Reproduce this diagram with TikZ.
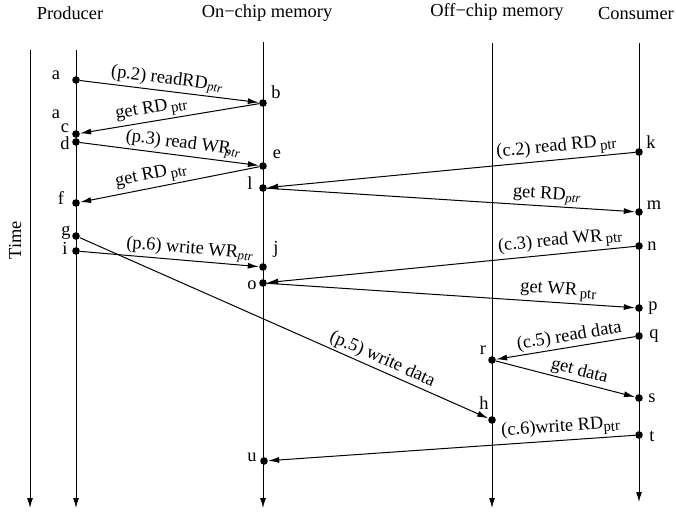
\documentclass[tikz,border=0pt]{standalone}
\usepackage{fontspec}
\setmainfont{Liberation Serif}
\usetikzlibrary{arrows.meta}
% pointer subscripts: italic subscript and small lowered upright form
\newcommand{\ptri}{\textsubscript{\itshape ptr}}
\newcommand{\ptru}{\raisebox{-0.35ex}{\fontsize{7.4}{8}\selectfont ptr}}

\begin{document}
\begin{tikzpicture}[x=0.5pt,y=-0.5pt,
  font=\fontsize{9.2}{11}\selectfont,
  lifeline/.style={line width=0.5pt,-{Latex[length=5pt,width=3pt]}},
  dot/.style={circle,fill,inner sep=0pt,minimum size=3.8pt},
  msg/.style={line width=0.5pt,-{Latex[length=5.5pt,width=3pt]}},
  lbl/.style={inner sep=0pt},
  mlbl/.style={sloped,above,inner sep=1pt},
  head/.style={inner sep=0pt}]
\useasboundingbox (0,0) rectangle (676,511);

% column headings
\node[head] (hprod) at (70,13) {Producer};
\node[head] (hon)   at (267,13) {On−chip memory};
\node[head] (hoff)  at (497,12) {Off−chip memory};
\node[head] (hcons) at (636,13) {Consumer};
\node[head,rotate=90] (time) at (15,240) {Time};

% lifelines
\coordinate (tT) at (30,50);  \coordinate (tB) at (30,508);
\coordinate (pT) at (76,50);  \coordinate (pB) at (76,508);
\coordinate (nT) at (263,42); \coordinate (nB) at (263,508);
\coordinate (fT) at (492,43); \coordinate (fB) at (492,508);
\coordinate (cT) at (639,43); \coordinate (cB) at (639,502);
\draw[lifeline] (tT) -- (tB);
\draw[lifeline] (pT) -- (pB);
\draw[lifeline] (nT) -- (nB);
\draw[lifeline] (fT) -- (fB);
\draw[lifeline] (cT) -- (cB);

% events
\node[dot] (a) at (76,80) {};
\node[dot] (b) at (263,103) {};
\node[dot] (c) at (76,134) {};
\node[dot] (d) at (76,142) {};
\node[dot] (e) at (263,166) {};
\node[dot] (f) at (76,203) {};
\node[dot] (l) at (263,188) {};
\node[dot] (k) at (639,152) {};
\node[dot] (m) at (639,212) {};
\node[dot] (n) at (639,246) {};
\node[dot] (g) at (76,236) {};
\node[dot] (i) at (76,251) {};
\node[dot] (j) at (263,267) {};
\node[dot] (o) at (263,283) {};
\node[dot] (p) at (639,308) {};
\node[dot] (q) at (639,336) {};
\node[dot] (r) at (492,360) {};
\node[dot] (s) at (639,398) {};
\node[dot] (h) at (492,420) {};
\node[dot] (t) at (639,435) {};
\node[dot] (u) at (264,461) {};

% event letters
\node[lbl] (la)  at (56,75)   {a};
\node[lbl] (la2) at (56,114)  {a};
\node[lbl] (lb)  at (276,92)  {b};
\node[lbl] (lc)  at (65,128)  {c};
\node[lbl] (ld)  at (65,143)  {d};
\node[lbl] (le)  at (277,154) {e};
\node[lbl] (ll)  at (250,183) {l};
\node[lbl] (lf)  at (61,198)  {f};
\node[lbl] (lg)  at (66,233)  {g};
\node[lbl] (li)  at (65,248)  {i};
\node[lbl] (lj)  at (276,249) {j};
\node[lbl] (lo)  at (252,285) {o};
\node[lbl] (lu)  at (252,457) {u};
\node[lbl] (lk)  at (651,142) {k};
\node[lbl] (lm)  at (654,205) {m};
\node[lbl] (ln)  at (652,246) {n};
\node[lbl] (lp)  at (653,308) {p};
\node[lbl] (lq)  at (654,336) {q};
\node[lbl] (lr)  at (483,350) {r};
\node[lbl] (ls)  at (652,398) {s};
\node[lbl] (lh)  at (484,403) {h};
\node[lbl] (lt)  at (652,436) {t};

% messages
\draw[msg] (a) -- node[mlbl,pos=0.48] {(p.2) readRD\ptri} (b);
\draw[msg] (b) -- node[mlbl,pos=0.59] {get RD\,\ptru} (c);
\draw[msg] (d) -- node[mlbl,pos=0.57] {(p.3) read WR\kern-0.3em\ptri} (e);
\draw[msg] (e) -- node[mlbl,pos=0.59] {get RD\,\ptru} (f);
\draw[msg] (k) -- node[mlbl,pos=0.21] {(c.2) read RD\,\ptru} (l);
\draw[msg] (l) -- node[mlbl,pos=0.76] {get RD\ptri} (m);
\draw[msg] (i) -- node[mlbl,pos=0.61] {(p.6) write WR\ptri} (j);
\draw[msg] (g) -- node[mlbl,pos=0.73] {(p.5) write data} (h);
\draw[msg] (n) -- node[mlbl,pos=0.2] {(c.3) read WR\,\ptru} (o);
\draw[msg] (o) -- node[mlbl,pos=0.79] {get WR\,\ptru} (p);
\draw[msg] (q) -- node[mlbl,pos=0.46] {(c.5) read data} (r);
\draw[msg] (r) -- node[mlbl,pos=0.58] {get data} (s);
\draw[msg] (t) -- node[mlbl,pos=0.2] {(c.6)write RD\ptru} (u);
\end{tikzpicture}
\end{document}
